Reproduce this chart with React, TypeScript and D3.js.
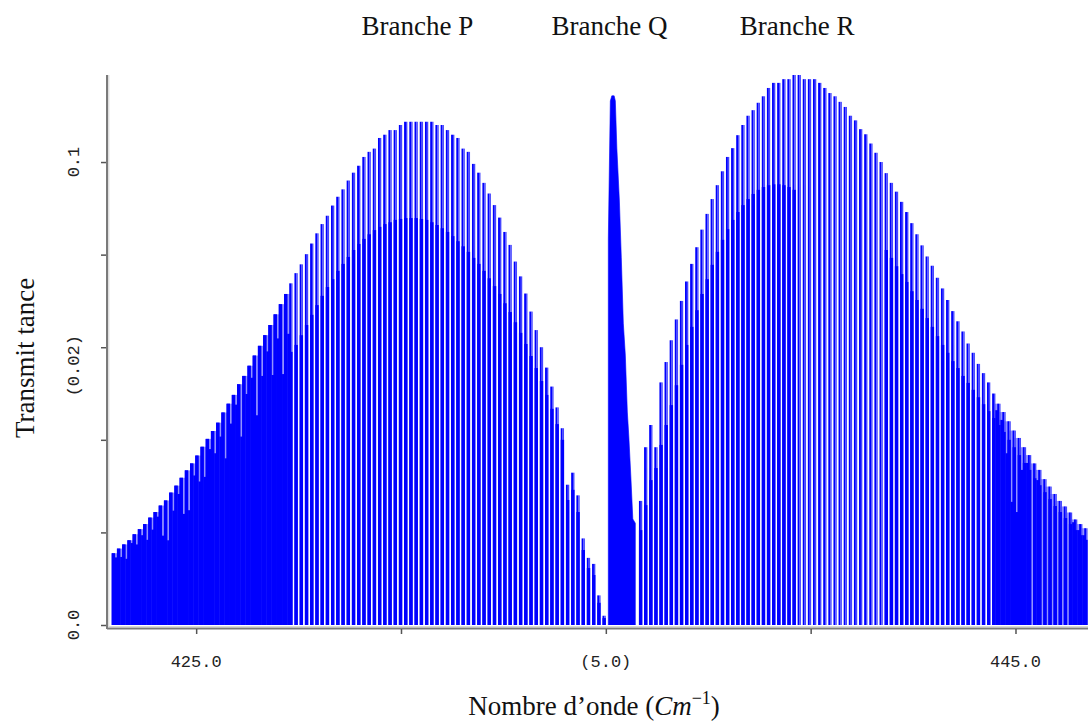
import React, { useEffect, useRef } from 'react';
import * as d3 from 'd3';

// axis windows (wavenumber, transmittance)
const xDomain = [422.97, 446.77];
const yDomain = [0, 0.1188];
const xTicks = [425, 430, 435, 440, 445];
const xTickText = ['425.0', '', '(5.0)', '', '445.0'];
const yTicks = [0, 0.02, 0.04, 0.06, 0.08, 0.1];
const yTickText = ['0.0', '', '', '', '', '0.1'];
const yExtraLabel = { value: 0.056, text: '(0.02)' };

const branchTitles = [
  { wave: 430.4, text: 'Branche P' },
  { wave: 435.09, text: 'Branche Q' },
  { wave: 439.67, text: 'Branche R' },
];

// P branch, lines from left to right
const pFirst = 422.98;
const pLast = 434.96;
const pMain = [
  0.0155, 0.0165, 0.0174, 0.0183, 0.0196, 0.0207, 0.0218, 0.0232, 0.0244, 0.0258,
  0.0269, 0.0286, 0.0301, 0.0318, 0.0334, 0.0349, 0.0366, 0.0385, 0.0402, 0.0419,
  0.0437, 0.0459, 0.0478, 0.0497, 0.052, 0.0538, 0.056, 0.0582, 0.0603, 0.0626,
  0.0648, 0.0671, 0.0693, 0.0715, 0.0738, 0.076, 0.0779, 0.0801, 0.0824, 0.0846,
  0.0866, 0.0884, 0.0906, 0.0925, 0.0941, 0.096, 0.0977, 0.0992, 0.1011, 0.1022,
  0.1029, 0.1052, 0.1059, 0.1069, 0.1069, 0.108, 0.1087, 0.1087, 0.1087, 0.1087,
  0.1087, 0.1087, 0.108, 0.108, 0.1069, 0.1059, 0.1052, 0.1029, 0.1022, 0.0996,
  0.0977, 0.0955, 0.0932, 0.0907, 0.088, 0.0849, 0.0821, 0.0785, 0.0753, 0.0716,
  0.0677, 0.0637, 0.06, 0.0556, 0.0515, 0.047, 0.0425, 0.0303, 0.0329, 0.028,
  0.0187, 0.0145, 0.0132, 0.0064, 0.002,
];
// darker lower part of each P line (inner envelope)
const pSub = [
  0.0155, 0.0165, 0.0174, 0.0183, 0.0196, 0.0207, 0.0218, 0.0232, 0.0244, 0.0258,
  0.0269, 0.0286, 0.0301, 0.0318, 0.0334, 0.0349, 0.0366, 0.0385, 0.0402, 0.0419,
  0.0437, 0.0459, 0.0478, 0.0497, 0.052, 0.0538, 0.056, 0.0582, 0.0603, 0.0626,
  0.0648, 0.0671, 0.0693, 0.0715,
  0.059, 0.0605, 0.0626, 0.0648, 0.067, 0.0691, 0.0711, 0.073, 0.0747, 0.0765,
  0.078, 0.0795, 0.081, 0.0823, 0.0834, 0.0844, 0.0853, 0.086, 0.0866, 0.087,
  0.0875, 0.0877, 0.0879, 0.0879, 0.0879, 0.0877, 0.0875, 0.087, 0.0864, 0.0857,
  0.0849, 0.084, 0.0829, 0.0818, 0.0806, 0.0793, 0.078, 0.0765, 0.0749, 0.0732,
  0.0715, 0.0695, 0.0676, 0.0654, 0.0631, 0.0607, 0.0581, 0.0555, 0.0527, 0.0497,
  0.0467, 0.0434, 0.04, 0.027, 0.0292, 0.0244, 0.0162, 0.0123, 0.0108, 0.0048,
  0.0015,
];
// weak lines sitting in the gaps of the dense left part
const pFillFrom = 0;
const pFill = [
  0.0146, 0.0147, 0.0143, 0.0177, 0.0174, 0.0194, 0.0184, 0.0206, 0.0234, 0.0193,
  0.0183, 0.0247, 0.0283, 0.024, 0.0248, 0.0323, 0.031, 0.032, 0.038, 0.0371,
  0.0407, 0.036, 0.0435, 0.0476, 0.0407, 0.0499, 0.0534, 0.0453, 0.0538, 0.0591,
  0.054, 0.0619, 0.0542, 0.0629,
];

// Q branch outline
const qWave = [
  435.061, 435.061, 435.11, 435.146, 435.203, 435.232, 435.269, 435.33, 435.378,
  435.427, 435.476, 435.525, 435.562, 435.61, 435.659, 435.72, 435.72,
];
const qVal = [
  0, 0.0834, 0.1132, 0.1143, 0.1143, 0.1132, 0.103, 0.0918, 0.0793,
  0.0652, 0.0583, 0.046, 0.0406, 0.0322, 0.0229, 0.022, 0,
];

// R branch, lines from left to right
const rFirst = 435.85;
const rLast = 446.72;
const rMain = [
  0.0268, 0.0384, 0.0432, 0.0384, 0.0524, 0.0568, 0.0615, 0.066, 0.07, 0.0742,
  0.078, 0.0816, 0.0854, 0.0888, 0.092, 0.095, 0.098, 0.1011, 0.103, 0.1058,
  0.108, 0.11, 0.1112, 0.1128, 0.1142, 0.116, 0.1171, 0.1171, 0.1179, 0.1179,
  0.1188, 0.1188, 0.1179, 0.1179, 0.1179, 0.1171, 0.116, 0.1149, 0.1142, 0.113,
  0.1119, 0.11, 0.109, 0.1071, 0.106, 0.104, 0.102, 0.1, 0.0976, 0.0955,
  0.0936, 0.0914, 0.0892, 0.0868, 0.0844, 0.082, 0.0796, 0.0776, 0.075, 0.0727,
  0.0702, 0.0678, 0.0656, 0.0634, 0.0608, 0.0588, 0.0564, 0.0544, 0.0524, 0.05,
  0.0478, 0.046, 0.044, 0.042, 0.0404, 0.0384, 0.0367, 0.0349, 0.0335, 0.0315,
  0.0299, 0.0283, 0.0268, 0.0256, 0.0243, 0.0228, 0.0218, 0.0209,
];
const rSub = [
  0.0205, 0.0259, 0.0313, 0.0339, 0.0389, 0.0432, 0.0475, 0.0518, 0.0562, 0.0605,
  0.0644, 0.068, 0.0715, 0.0747, 0.0778, 0.0806, 0.0832, 0.0855, 0.0875, 0.0892,
  0.0907, 0.092, 0.0931, 0.094, 0.0946, 0.095, 0.0952, 0.0952, 0.095, 0.0946,
  0.094,
  0, 0, 0, 0, 0, 0, 0, 0, 0, 0, 0, 0, 0, 0, 0, 0, 0,
  0.081, 0.0793, 0.0775, 0.0758, 0.0741, 0.0721, 0.0702, 0.0683, 0.0663, 0.0644,
  0.0624, 0.0605, 0.0588, 0.057, 0.0555, 0.0538, 0.0523, 0.0508, 0.0492, 0.0477,
  0.0462, 0.0447, 0.0432, 0.0417, 0.04, 0.0384, 0.0367, 0.035, 0.0335, 0.0317,
  0.0302, 0.0287, 0.0272, 0.0257, 0.0244, 0.0231, 0.0218, 0.0205, 0.0194, 0.0184,
];
const rFillFrom = 69;
const rFill = [
  0.0464, 0.0443, 0.0371, 0.0266, 0.0244, 0.0335, 0.035, 0, 0.0313, 0,
  0, 0, 0, 0, 0, 0.0222, 0.0205, 0.0194,
];

const BLUE = '#0000ff';
const HALO = '#4646ff';
const LIGHT = '#9292ff';
const SERIF = '"Liberation Serif", "Times New Roman", serif';
const MONO = '"Liberation Mono", "Courier New", monospace';

const App = () => {
  const ref = useRef<SVGSVGElement>(null);

  useEffect(() => {
    document.body.style.margin = '0';
    const width = 1088;
    const height = 722;
    const left = 113;
    const axisX = 107;
    const base = 625;
    const top = 75;

    const svg = d3.select(ref.current);
    svg.selectAll('*').remove();
    svg.attr('width', width).attr('height', height);

    const x = d3.scaleLinear().domain(xDomain).range([left, width]);
    const y = d3.scaleLinear().domain(yDomain).range([base, top]);

    svg.append('defs').append('clipPath').attr('id', 'plot-clip')
      .append('rect').attr('x', axisX + 1).attr('y', 40).attr('width', width - axisX).attr('height', base - 40);

    const plot = svg.append('g').attr('clip-path', 'url(#plot-clip)');

    const drawBranch = (main: number[], sub: number[], first: number, last: number, fillFrom: number, fill: number[]) => {
      const idx = d3.scaleLinear().domain([0, main.length - 1]).range([first, last]);
      const g = plot.append('g');

      fill.forEach((v, i) => {
        const k = fillFrom + i;
        const x0 = x(idx(k));
        const x1 = x(idx(k + 1));
        const t = Math.min(main[k], main[k + 1]);
        g.append('rect').attr('x', x0).attr('width', x1 - x0)
          .attr('y', y(t)).attr('height', y(0) - y(t)).attr('fill', LIGHT);
        if (v > 0) {
          g.append('rect').attr('x', x0).attr('width', x1 - x0)
            .attr('y', y(v)).attr('height', y(0) - y(v)).attr('fill', BLUE);
        }
      });

      main.forEach((v, k) => {
        const cx = x(idx(k));
        g.append('rect').attr('x', cx - 1.7).attr('width', 1.9)
          .attr('y', y(v)).attr('height', y(0) - y(v)).attr('fill', BLUE);
        g.append('rect').attr('x', cx + 0.2).attr('width', 1.4)
          .attr('y', y(v)).attr('height', y(0) - y(v)).attr('fill', HALO);
        if (sub[k] > 0) {
          g.append('rect').attr('x', cx - 1.7).attr('width', 3.4)
            .attr('y', y(sub[k])).attr('height', y(0) - y(sub[k])).attr('fill', BLUE);
        }
      });
    };

    drawBranch(pMain, pSub, pFirst, pLast, pFillFrom, pFill);
    drawBranch(rMain, rSub, rFirst, rLast, rFillFrom, rFill);

    const qLine = d3.line<number>().x((d) => x(d)).y((_, i) => y(qVal[i]));
    plot.append('path').attr('d', qLine(qWave) + 'Z').attr('fill', BLUE).attr('stroke', BLUE).attr('stroke-width', 0.6);

    // axes
    svg.append('line').attr('x1', axisX).attr('x2', axisX).attr('y1', top).attr('y2', base + 4)
      .attr('stroke', '#7a7a7a').attr('stroke-width', 2);
    svg.append('line').attr('x1', axisX + 1.8).attr('x2', axisX + 1.8).attr('y1', top).attr('y2', base + 2)
      .attr('stroke', '#d0d0d0').attr('stroke-width', 1);
    svg.append('line').attr('x1', axisX).attr('x2', width).attr('y1', base + 3.5).attr('y2', base + 3.5)
      .attr('stroke', '#7a7a7a').attr('stroke-width', 2);
    svg.append('line').attr('x1', axisX + 2).attr('x2', width).attr('y1', base + 1.5).attr('y2', base + 1.5)
      .attr('stroke', '#d8d8d8').attr('stroke-width', 1);

    const yAxis = svg.append('g').attr('transform', `translate(${axisX - 1},0)`)
      .call(d3.axisLeft(y).tickValues(yTicks).tickSize(5).tickFormat(() => ''));
    yAxis.select('.domain').remove();
    yAxis.selectAll('line').attr('stroke', '#555').attr('stroke-width', 1.5);

    const xAxis = svg.append('g').attr('transform', `translate(0,${base + 4})`)
      .call(d3.axisBottom(x).tickValues(xTicks).tickSize(5).tickFormat(() => ''));
    xAxis.select('.domain').remove();
    xAxis.selectAll('line').attr('stroke', '#555').attr('stroke-width', 1.5);

    // tick labels
    svg.append('g').selectAll('text').data(xTicks).enter().append('text')
      .attr('x', (d) => x(d)).attr('y', 667)
      .attr('text-anchor', 'middle').style('font-family', MONO).style('font-size', '17px').attr('fill', '#222')
      .text((_, i) => xTickText[i]);

    const yLab = yTicks.map((v, i) => ({ v, t: yTickText[i] })).filter((d) => d.t !== '');
    yLab.push({ v: yExtraLabel.value, t: yExtraLabel.text });
    svg.append('g').selectAll('text').data(yLab).enter().append('text')
      .attr('transform', (d) => `translate(79,${y(d.v)}) rotate(-90)`)
      .attr('text-anchor', 'middle').style('font-family', MONO).style('font-size', '17px').attr('fill', '#222')
      .text((d) => d.t);

    // titles
    svg.append('g').selectAll('text').data(branchTitles).enter().append('text')
      .attr('x', (d) => x(d.wave)).attr('y', 35)
      .attr('text-anchor', 'middle').style('font-family', SERIF).style('font-size', '27px').attr('fill', '#111')
      .text((d) => d.text);

    svg.append('text').attr('transform', 'translate(34,358) rotate(-90)')
      .attr('text-anchor', 'middle').style('font-family', SERIF).style('font-size', '27px').attr('fill', '#111')
      .text('Transmit tance');

    const xl = svg.append('text').attr('x', 594).attr('y', 715)
      .attr('text-anchor', 'middle').style('font-family', SERIF).style('font-size', '27px').attr('fill', '#111');
    xl.append('tspan').text('Nombre d\u2019onde (');
    xl.append('tspan').style('font-style', 'italic').text('Cm');
    xl.append('tspan').attr('dy', -11).style('font-size', '18px').text('\u22121');
    xl.append('tspan').attr('dy', 11).text(')');
  }, []);

  return <svg ref={ref} style={{ display: 'block', background: '#fff' }} />;
};

export default App;
